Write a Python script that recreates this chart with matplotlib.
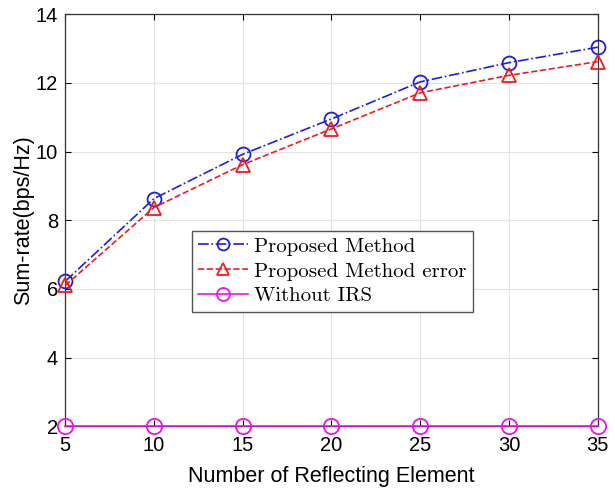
import matplotlib
matplotlib.use("Agg")
import matplotlib.pyplot as plt

plt.rcParams["font.family"] = ["Liberation Sans", "DejaVu Sans"]

# sum-rate versus number of reflecting elements
elements = [5, 10, 15, 20, 25, 30, 35]
rate_proposed = [6.22, 8.63, 9.92, 10.95, 12.03, 12.59, 13.04]
rate_error = [6.10, 8.37, 9.62, 10.66, 11.71, 12.22, 12.62]
rate_no_irs = [2, 2, 2, 2, 2, 2, 2]

fig = plt.figure(figsize=(6.15, 4.91), dpi=100)
ax = fig.add_axes([0.106, 0.132, 0.866, 0.839])

ax.plot(elements, rate_proposed, "-.", color="#1f1fd6", marker="o", markersize=10,
        markerfacecolor="none", markeredgewidth=1.3, linewidth=1.2,
        label="Proposed Method", clip_on=False, zorder=3)
ax.plot(elements, rate_error, "--", color="#ee1c1c", marker="^", markersize=10,
        markerfacecolor="none", markeredgewidth=1.3, linewidth=1.2,
        label="Proposed Method error", clip_on=False, zorder=3)
ax.plot(elements, rate_no_irs, "-", color="#ee11ee", marker="o", markersize=11,
        markerfacecolor="none", markeredgewidth=1.3, linewidth=1.2,
        label="Without IRS", clip_on=False, zorder=3)

ax.set_xlim(5, 35)
ax.set_ylim(2, 14)
ax.set_xticks(elements)
ax.set_yticks([2, 4, 6, 8, 10, 12, 14])
ax.grid(True, color="#e3e3e3", linewidth=0.8)
ax.tick_params(direction="in", labelsize=14.5, top=True, right=True, length=4)
ax.tick_params(axis="x", pad=7)
ax.tick_params(axis="y", pad=5)
for s in ax.spines.values():
    s.set_color("#333333")
    s.set_linewidth(0.9)

ax.set_xlabel("Number of Reflecting Element", fontsize=15.5, labelpad=8)
ax.set_ylabel("Sum-rate(bps/Hz)", fontsize=15.5, labelpad=1)

leg = ax.legend(loc="upper left", bbox_to_anchor=(0.238, 0.474), prop={"family": "cmr10", "size": 15},
                fancybox=False, edgecolor="#555555", framealpha=1, handlelength=2.4,
                markerscale=0.85, borderpad=0.3, labelspacing=0.3, handletextpad=0.3,
                borderaxespad=0)
leg.get_frame().set_linewidth(1.0)

fig.savefig("out.png", dpi=100)
